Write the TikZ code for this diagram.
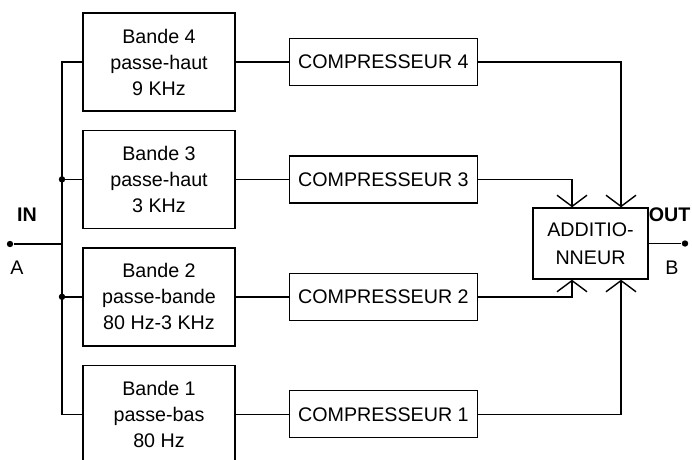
\documentclass[tikz,border=0pt]{standalone}
\usepackage{fontspec}
\setmainfont{Liberation Sans}
\usetikzlibrary{arrows.meta,positioning}

\begin{document}
\begin{tikzpicture}[
  line width=1pt,
  filtre/.style={draw, minimum width=3.8cm, minimum height=2.45cm, align=center, inner sep=0pt,
    font=\fontsize{14}{18.5}\selectfont},
  comp/.style={draw, minimum width=4.7cm, minimum height=1.175cm, inner sep=0pt,
    font=\fontsize{14}{17}\selectfont},
  somme/.style={draw, minimum width=2.875cm, minimum height=1.775cm, align=center, inner sep=0pt,
    font=\fontsize{14}{20}\selectfont},
  point/.style={circle, fill, inner sep=0pt, minimum size=0.16cm},
  borne/.style={font=\fontsize{14}{17}\selectfont},
  flow/.style={-{Straight Barb[length=0.28cm, width=0.75cm]}}
]
  \useasboundingbox (0,0) rectangle (17.3,11.475);

  % filtres
  \node[filtre] (b4) at (3.975,9.925) {Bande 4\\passe-haut\\9 KHz};
  \node[filtre, below=0.45cm of b4] (b3) {Bande 3\\passe-haut\\3 KHz};
  \node[filtre, below=0.45cm of b3] (b2) {Bande 2\\passe-bande\\80 Hz-3 KHz};
  \node[filtre, below=0.45cm of b2] (b1) {Bande 1\\passe-bas\\80 Hz};

  % compresseurs
  \node[comp, right=1.325cm of b4] (c4) {COMPRESSEUR 4};
  \node[comp, right=1.325cm of b3] (c3) {COMPRESSEUR 3};
  \node[comp, right=1.325cm of b2] (c2) {COMPRESSEUR 2};
  \node[comp, right=1.325cm of b1] (c1) {COMPRESSEUR 1};

  \node[somme] (add) at (14.7625,5.3875) {ADDITIO-\\NNEUR};

  % entree / sortie
  \coordinate (bus) at (1.55,0);
  \coordinate (xg) at (14.3,0);
  \coordinate (xd) at (15.525,0);
  \node[point] (A) at (0.25,5.375) {};
  \node[borne, font=\fontsize{14}{17}\selectfont\bfseries] (in) at (0.675,6.1) {IN};
  \node[borne] (la) at (0.425,4.775) {A};
  \node[point] (B) at (17.125,5.3875) {};
  \node[borne, font=\fontsize{14}{17}\selectfont\bfseries, inner xsep=0pt] (out) at (16.74,6.1) {OUT};
  \node[borne] (lb) at (16.8,4.775) {B};

  \draw (b4.west) -- (b4.west -| bus) -- (b1.west -| bus) -- (b1.west);
  \draw (b3.west -| bus) node[point] {} -- (b3.west);
  \draw (b2.west -| bus) node[point] {} -- (b2.west);
  \draw (A) -- (A -| bus);

  \foreach \i in {1,...,4}
    \draw (b\i) -- (c\i);

  \draw[flow] (c4) -| (add.north -| xd);
  \draw[flow] (c3) -| (add.north -| xg);
  \draw[flow] (c2) -| (add.south -| xg);
  \draw[flow] (c1) -| (add.south -| xd);
  \draw (add) -- (B);
\end{tikzpicture}
\end{document}
